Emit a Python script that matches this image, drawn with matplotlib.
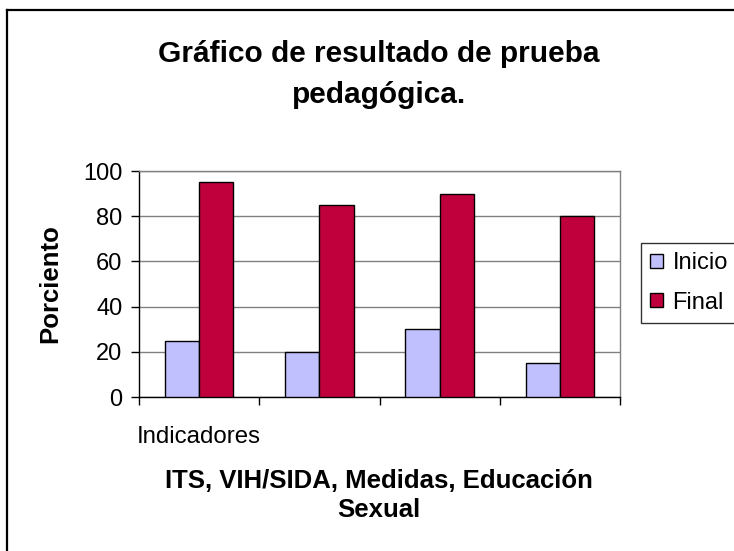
import matplotlib
matplotlib.use("Agg")
import matplotlib.pyplot as plt
from matplotlib.lines import Line2D
import numpy as np

plt.rcParams['font.family'] = ['Liberation Sans', 'DejaVu Sans']

categories = ["ITS", "VIH/SIDA", "Medidas", "Educación Sexual"]
series_names = ["Inicio", "Final"]
inicio = [25, 20, 30, 15]
final = [95, 85, 90, 80]
colors = ["#C0C0FF", "#C0003C"]
yticks = [0, 20, 40, 60, 80, 100]

W, H = 734, 551
fig = plt.figure(figsize=(W / 100, H / 100), dpi=100)
fig.patch.set_facecolor("white")

# figure border (left and top visible)
fig.add_artist(Line2D([7 / W, 7 / W], [0, 1 - 10 / H], color="black", lw=1.6, transform=fig.transFigure))
fig.add_artist(Line2D([7 / W, 1], [1 - 10 / H, 1 - 10 / H], color="black", lw=1.6, transform=fig.transFigure))

ax = fig.add_axes([139 / W, 1 - 397 / H, (620 - 139) / W, (397 - 171) / H])
x = np.arange(len(categories))
bw = 1 / 3.5
ax.bar(x - bw / 2, inicio, bw, color=colors[0], edgecolor="black", linewidth=1.0, label=series_names[0], zorder=3)
ax.bar(x + bw / 2, final, bw, color=colors[1], edgecolor="black", linewidth=1.0, label=series_names[1], zorder=3)

ax.set_xlim(-0.5, len(categories) - 0.5)
ax.set_ylim(0, 100)
ax.set_yticks(yticks)
ax.set_yticklabels([str(v) for v in yticks], fontsize=17)
ax.set_xticks(np.arange(len(categories) + 1) - 0.5)
ax.set_xticklabels([])
ax.tick_params(axis="both", direction="out", length=6, width=1, color="black")
ax.tick_params(axis="y", pad=6)
ax.yaxis.grid(True, color="#808080", linewidth=1, zorder=0)
ax.set_axisbelow(True)
for s in ["top", "right"]:
    ax.spines[s].set_color("#808080")
    ax.spines[s].set_linewidth(1)
for s in ["left", "bottom"]:
    ax.spines[s].set_color("black")
    ax.spines[s].set_linewidth(1)

# titles and labels
fig.text(379 / W, 1 - 62 / H, "Gráfico de resultado de prueba", ha="center", va="baseline", fontsize=21.5, fontweight="bold")
fig.text(379 / W, 1 - 103 / H, "pedagógica.", ha="center", va="baseline", fontsize=21.5, fontweight="bold")
fig.text(50 / W, 1 - 284 / H, "Porciento", ha="center", va="center", rotation=90, fontsize=18.5, fontweight="bold")
fig.text(137 / W, 1 - 443 / H, "Indicadores", ha="left", va="baseline", fontsize=17.3)
fig.text(379 / W, 1 - 488 / H, "ITS, VIH/SIDA, Medidas, Educación", ha="center", va="baseline", fontsize=18.5, fontweight="bold")
fig.text(379 / W, 1 - 517 / H, "Sexual", ha="center", va="baseline", fontsize=18.5, fontweight="bold")

leg = ax.legend(loc="upper left", bbox_to_anchor=(641 / W, 1 - 243 / H), bbox_transform=fig.transFigure,
                fontsize=17, frameon=True, fancybox=False, borderaxespad=0, borderpad=0.38,
                handlelength=0.55, handleheight=0.55, handletextpad=0.4, labelspacing=0.75)
leg.get_frame().set_edgecolor("black")
leg.get_frame().set_linewidth(1)

fig.savefig("out.png", dpi=100)
